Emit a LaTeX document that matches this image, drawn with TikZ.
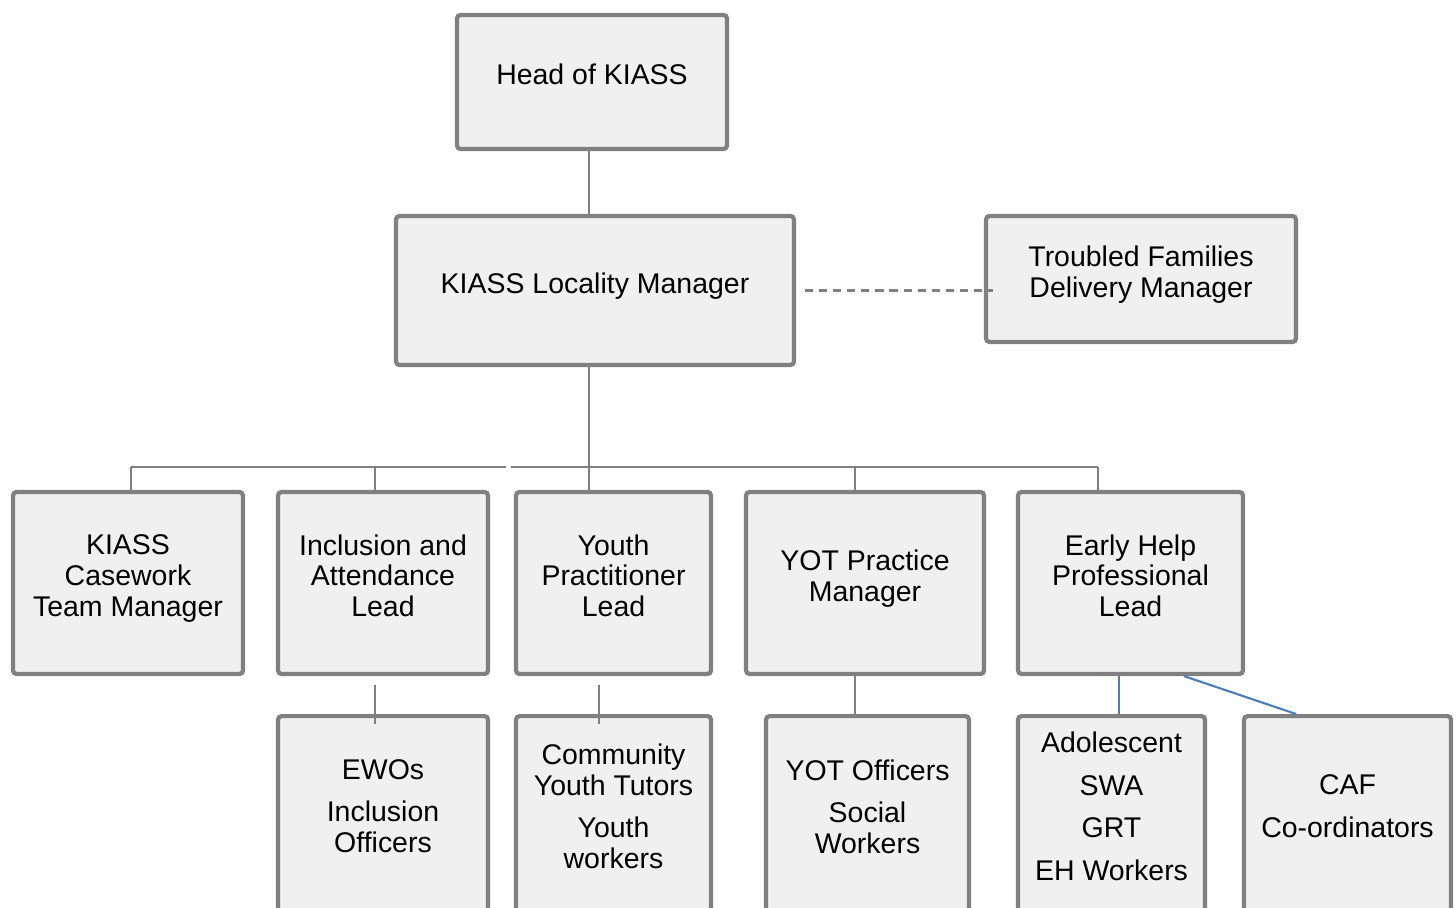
\documentclass[tikz,border=0pt]{standalone}
\usepackage{fontspec}
\setmainfont{Liberation Sans}
\usepackage{tikz}
\usetikzlibrary{positioning}
\definecolor{boxgray}{HTML}{808080}
\definecolor{boxfill}{HTML}{F0F0F0}
\definecolor{linkblue}{HTML}{4A7EBB}

\begin{document}
\begin{tikzpicture}[
    post/.style={rectangle, draw=boxgray, fill=boxfill, line width=1.2pt, rounded corners=1pt, align=center, text depth=0.15cm, font=\fontsize{8.1}{8.7}\selectfont},
    lead/.style={post, minimum height=1.82cm},
    staff/.style={post, anchor=north, inner ysep=0.1cm, text depth=2.2cm},
    link/.style={draw=boxgray, line width=0.6pt},
    ehlink/.style={draw=linkblue, line width=0.6pt}
]
\useasboundingbox (0,0) rectangle (14.56,-9.07);

% managers
\node[post, minimum width=2.70cm, minimum height=1.34cm] (head) at (5.92,-0.82) {Head of KIASS};
\node[post, minimum width=3.98cm, minimum height=1.49cm] (loc) at (5.95,-2.905) {KIASS Locality Manager};
\node[post, minimum width=3.10cm, minimum height=1.26cm] (tfam) at (11.41,-2.79) {Troubled Families\\Delivery Manager};

% leads
\node[lead, minimum width=2.30cm] (case) at (1.28,-5.83) {KIASS\\Casework\\Team Manager};
\node[lead, minimum width=2.10cm] (incl) at (3.83,-5.83) {Inclusion and\\Attendance\\Lead};
\node[lead, minimum width=1.95cm] (ypl) at (6.135,-5.83) {Youth\\Practitioner\\Lead};
\node[lead, minimum width=2.38cm] (yotpm) at (8.65,-5.83) {YOT Practice\\Manager};
\node[lead, minimum width=2.25cm] (ehpl) at (11.305,-5.83) {Early Help\\Professional\\Lead};

% teams
\node[staff, minimum width=2.10cm, text height=1.26cm] (ewo) at (3.83,-7.14) {EWOs\\[3.4pt]Inclusion\\Officers};
\node[staff, minimum width=1.95cm, text height=1.42cm] (cyt) at (6.135,-7.14) {Community\\Youth Tutors\\[3.4pt]Youth\\workers};
\node[staff, minimum width=2.03cm, text height=1.27cm] (yoto) at (8.675,-7.14) {YOT Officers\\[3.4pt]Social\\Workers};
\node[staff, minimum width=1.87cm, text height=1.54cm] (adol) at (11.115,-7.14) {Adolescent\\[3.4pt]SWA\\[3.4pt]GRT\\[3.4pt]EH Workers};
\node[staff, minimum width=2.07cm, text height=1.11cm] (caf) at (13.475,-7.14) {CAF\\[3.4pt]Co-ordinators};

% bus
\coordinate (busL) at (1.31,-4.67);
\coordinate (busM) at (5.06,-4.67);
\coordinate (busN) at (5.11,-4.67);
\coordinate (busR) at (10.98,-4.67);

% lines
\draw[link] ([xshift=-0.03cm]head.south) -- ([xshift=-0.03cm]head.south |- loc.north);
\draw[link] ([xshift=-0.06cm]loc.south) -- ([xshift=-0.06cm]loc.south |- ypl.north);
\draw[link, dash pattern=on 2.3pt off 1.7pt] ([xshift=0.09cm]loc.east) -- ([xshift=0.09cm]loc.east -| tfam.west);
\draw[link] (busL) -- (busM);
\draw[link] (busN) -- (busR);
\draw[link] (busL) -- (busL |- case.north);
\draw[link] ([xshift=-0.08cm]incl.north) -- ([xshift=-0.08cm]incl.north |- busL);
\draw[link] ([xshift=-0.10cm]yotpm.north) -- ([xshift=-0.10cm]yotpm.north |- busR);
\draw[link] (busR) -- (busR |- ehpl.north);
\draw[link] ([xshift=-0.08cm, yshift=-0.09cm]incl.south) -- ([xshift=-0.08cm, yshift=-0.1cm]ewo.north);
\draw[link] ([xshift=-0.145cm, yshift=-0.09cm]ypl.south) -- ([xshift=-0.145cm, yshift=-0.1cm]cyt.north);
\draw[link] ([xshift=-0.10cm]yotpm.south) -- ([xshift=-0.10cm]yotpm.south |- yoto.north);
\draw[ehlink] ([xshift=0.075cm]adol.north) -- ([xshift=0.075cm]adol.north |- ehpl.south);
\draw[ehlink] ([xshift=0.535cm]ehpl.south) -- ([xshift=-0.515cm]caf.north);

\end{tikzpicture}
\end{document}
